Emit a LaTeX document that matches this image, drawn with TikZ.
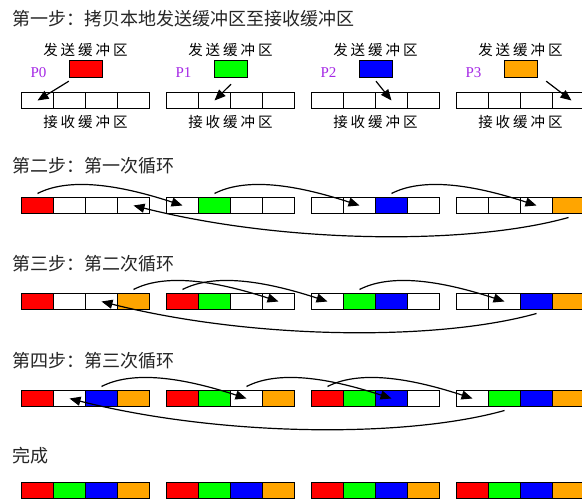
\documentclass[tikz,border=0pt]{standalone}
\usepackage{fontspec}
\setmainfont{Liberation Serif}
\newfontfamily\cjk{Noto Sans CJK SC}
\usetikzlibrary{arrows.meta,calc}
\definecolor{cR}{HTML}{FF0000}
\definecolor{cG}{HTML}{00FF00}
\definecolor{cB}{HTML}{0000FF}
\definecolor{cO}{HTML}{FFA500}
\definecolor{plabel}{RGB}{165,40,230}
\newcommand\arr[7]{%
  \foreach \i/\c in {0/#4,1/#5,2/#6,3/#7}{%
    \node[cell,fill=\c] (r#1a#2c\i) at ({37.5+145*#2+32*\i},-#3) {};
  }}
\newcommand\chgap{\hspace{3pt}}
\newcommand\sendlbl{发\chgap 送\chgap 缓\chgap 冲\chgap 区}
\newcommand\recvlbl{接\chgap 收\chgap 缓\chgap 冲\chgap 区}
\begin{document}
\begin{tikzpicture}[x=1pt,y=1pt,
  cell/.style={draw=black,line width=1.4pt,minimum width=32pt,minimum height=16pt,inner sep=0pt,outer sep=0pt},
  sendbox/.style={draw=black,line width=1.4pt,minimum width=33pt,minimum height=17pt,inner sep=0pt},
  title/.style={anchor=west,inner sep=0pt,text=black!85,font=\cjk\fontsize{18}{20}\selectfont},
  lbl/.style={inner sep=0pt,font=\cjk\fontsize{14.5}{16}\selectfont},
  plbl/.style={inner sep=0pt,text=plabel,font=\fontsize{15}{16}\selectfont},
  conn/.style={-{Triangle[length=11pt,width=9pt]},line width=1.2pt}]
\useasboundingbox (0,0) rectangle (582,-500);
\clip (0,0) rectangle (582,-500);
\fill[white] (0,0) rectangle (582,-500);

% titles
\node[title] (t1) at (12,-18.5) {第一步：拷贝本地发送缓冲区至接收缓冲区};
\node[title] (t2) at (12,-166) {第二步：第一次循环};
\node[title] (t3) at (12,-264) {第三步：第二次循环};
\node[title] (t4) at (12,-360.5) {第四步：第三次循环};
\node[title] (t5) at (12,-456) {完成};

% step 1
\foreach \a/\col in {0/cR,1/cG,2/cB,3/cO}{
  \node[lbl] (sl\a) at ({85.5+145*\a},-50) {\sendlbl};
  \node[sendbox,fill=\col] (s\a) at ({86+145*\a},-69) {};
  \node[plbl] (p\a) at ({38.5+145*\a},-73) {P\a};
  \node[lbl] (rl\a) at ({85.5+145*\a},-122.5) {\recvlbl};
}
\arr{1}{0}{100.5}{none}{none}{none}{none}
\arr{1}{1}{100.5}{none}{none}{none}{none}
\arr{1}{2}{100.5}{none}{none}{none}{none}
\arr{1}{3}{100.5}{none}{none}{none}{none}
\draw[conn] ($(s0.south west)+(0,-3)$) -- (r1a0c0.center);
\draw[conn] ($(s1.south)+(0,-6)$) -- (r1a1c1.center);
\draw[conn] ($(s2.south)+(0,-3)$) -- (r1a2c2.center);
\draw[conn] ($(s3.south east)+(8,-3)$) -- ($(r1a3c3.center)+(3,0)$);

% step 2
\arr{2}{0}{205.5}{cR}{none}{none}{none}
\arr{2}{1}{205.5}{none}{cG}{none}{none}
\arr{2}{2}{205.5}{none}{none}{cB}{none}
\arr{2}{3}{205.5}{none}{none}{none}{cO}
\draw[conn] ($(r2a0c0.north)+(0,4)$) .. controls +(35,18) and +(-55,18) .. (r2a1c0.center);
\draw[conn] ($(r2a1c1.north)+(0,4)$) .. controls +(35,18) and +(-55,18) .. (r2a2c1.center);
\draw[conn] ($(r2a2c2.north)+(0,4)$) .. controls +(35,18) and +(-55,18) .. (r2a3c2.center);
\draw[conn] ($(r2a3c3.south)+(0,-4)$) .. controls +(-100,-28) and +(150,-38) .. (r2a0c3.center);

% step 3
\arr{3}{0}{301.5}{cR}{none}{none}{cO}
\arr{3}{1}{301.5}{cR}{cG}{none}{none}
\arr{3}{2}{301.5}{none}{cG}{cB}{none}
\arr{3}{3}{301.5}{none}{none}{cB}{cO}
\draw[conn] ($(r3a0c3.north)+(0,4)$) .. controls +(35,18) and +(-55,18) .. (r3a1c3.center);
\draw[conn] ($(r3a1c0.north)+(0,4)$) .. controls +(35,18) and +(-55,18) .. (r3a2c0.center);
\draw[conn] ($(r3a2c1.north)+(0,4)$) .. controls +(35,18) and +(-55,18) .. (r3a3c1.center);
\draw[conn] ($(r3a3c2.south)+(0,-4)$) .. controls +(-100,-28) and +(150,-38) .. (r3a0c2.center);

% step 4
\arr{4}{0}{398.5}{cR}{none}{cB}{cO}
\arr{4}{1}{398.5}{cR}{cG}{none}{cO}
\arr{4}{2}{398.5}{cR}{cG}{cB}{none}
\arr{4}{3}{398.5}{none}{cG}{cB}{cO}
\draw[conn] ($(r4a0c2.north)+(0,4)$) .. controls +(35,18) and +(-55,18) .. (r4a1c2.center);
\draw[conn] ($(r4a1c2.north)+(0,4)$) .. controls +(35,18) and +(-55,18) .. (r4a2c2.center);
\draw[conn] ($(r4a2c0.north)+(0,4)$) .. controls +(35,18) and +(-55,18) .. (r4a3c0.center);
\draw[conn] ($(r4a3c1.south)+(0,-4)$) .. controls +(-100,-28) and +(150,-38) .. (r4a0c1.center);

% done
\arr{5}{0}{490.5}{cR}{cG}{cB}{cO}
\arr{5}{1}{490.5}{cR}{cG}{cB}{cO}
\arr{5}{2}{490.5}{cR}{cG}{cB}{cO}
\arr{5}{3}{490.5}{cR}{cG}{cB}{cO}
\end{tikzpicture}
\end{document}
